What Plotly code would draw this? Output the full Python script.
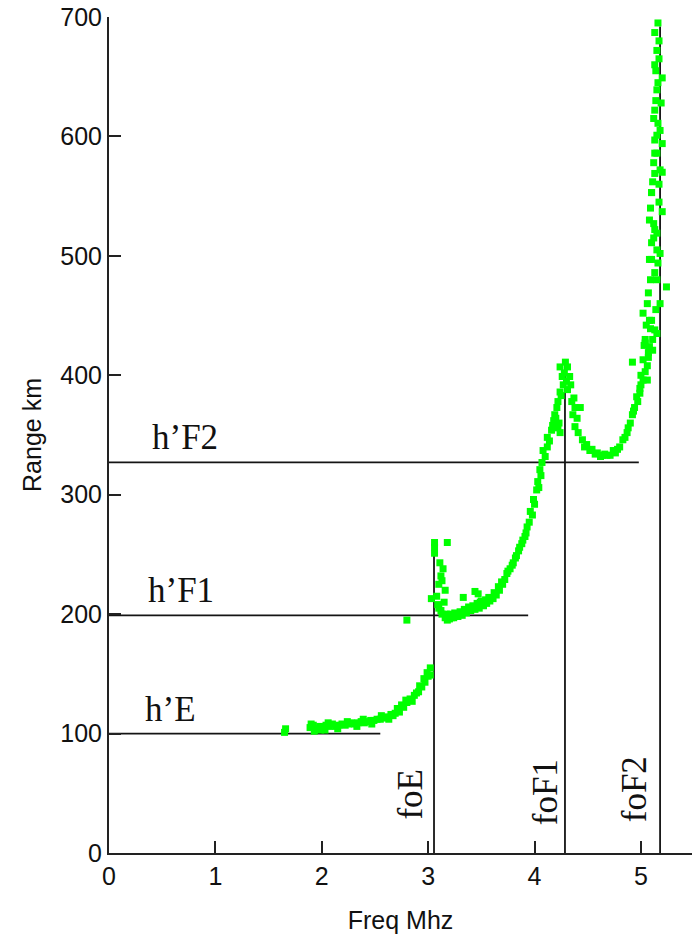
import plotly.graph_objects as go

# ---- echo trace (frequency MHz, virtual range km) ----
e_freq = [1.65, 1.66, 1.89, 1.92, 1.95, 1.98, 2.01, 2.04, 2.07, 2.10, 2.13, 2.16, 2.19, 2.22,
          2.25, 2.28, 2.31, 2.34, 2.37, 2.40, 2.43, 2.46, 2.49, 2.52, 2.55, 2.58, 2.61, 2.65,
          2.69, 2.73, 2.77, 2.80, 2.83, 2.87, 2.91, 2.94, 2.97, 3.00, 3.02, 1.93, 1.99, 2.80,
          1.90, 2.03, 2.15, 2.33, 2.47, 2.63, 2.67, 2.71, 2.75, 2.79, 2.85, 2.89, 2.92, 2.96,
          2.99, 3.02, 2.06, 2.24, 2.39, 2.56]
e_range = [101, 104, 105, 107, 104, 106, 105, 107, 106, 108, 106, 107, 108, 107,
           108, 109, 108, 109, 110, 109, 110, 111, 111, 112, 112, 113, 114, 116,
           117, 118, 122, 126, 129, 132, 135, 139, 143, 148, 155, 102, 103, 195,
           108, 103, 104, 106, 108, 112, 115, 121, 124, 128, 127, 134, 140, 146,
           151, 149, 109, 110, 112, 115]

f1_freq = [3.06, 3.06, 3.06, 3.18, 3.03, 3.08, 3.10, 3.12, 3.14, 3.11, 3.13, 3.16, 3.15, 3.10,
           3.13, 3.16, 3.18, 3.20, 3.22, 3.24, 3.26, 3.28, 3.32, 3.36, 3.40, 3.44, 3.48, 3.52,
           3.33, 3.44, 3.47, 3.49, 3.55, 3.58, 3.61, 3.64, 3.67, 3.70, 3.72, 3.74, 3.77, 3.80,
           3.83, 3.86, 3.89, 3.92, 3.93, 3.96, 3.99, 4.02, 4.03, 4.05, 4.07, 4.08, 4.12, 4.12,
           4.16, 4.22, 4.24, 4.19, 4.22, 4.24, 4.21, 4.26, 4.24, 4.29, 4.31, 4.33, 4.31, 4.35,
           4.38, 4.43, 4.36, 4.38, 4.41, 4.45, 4.49, 4.54, 4.59, 4.64, 4.68, 4.71, 4.76, 4.80,
           4.83, 4.87, 4.90, 4.92, 4.94, 4.96, 4.99, 5.02, 5.04, 4.92, 5.02, 5.07, 5.04, 5.11,
           5.15, 5.08, 4.18, 4.27,
           3.09, 3.12, 3.17, 3.21, 3.25, 3.30, 3.34, 3.38, 3.42, 3.46, 3.50, 3.54, 3.57, 3.62,
           3.66, 3.69, 3.75, 3.79, 3.82, 3.85, 3.88, 3.91, 3.95, 3.98, 4.00, 4.04, 4.06, 4.10,
           4.14, 4.17, 4.20, 4.23, 4.25, 4.28, 4.30, 4.34, 4.37, 4.40, 4.47, 4.52, 4.57, 4.62,
           4.66, 4.74, 4.78, 4.85, 4.88, 4.93, 4.97, 5.00, 5.06, 5.09]
f1_range = [251, 256, 260, 260, 213, 215, 225, 232, 238, 243, 228, 220, 210, 205,
            200, 197, 195, 196, 197, 197, 198, 198, 199, 201, 203, 204, 205, 207,
            214, 219, 217, 210, 209, 211, 213, 216, 220, 225, 229, 234, 238, 243,
            249, 256, 262, 268, 273, 286, 296, 304, 311, 321, 327, 337, 340, 348,
            354, 356, 352, 367, 378, 386, 373, 399, 407, 411, 407, 399, 388, 378,
            373, 373, 367, 357, 352, 346, 342, 338, 335, 333, 333, 333, 335, 340,
            346, 352, 360, 367, 373, 382, 389, 396, 403, 411, 413, 419, 427, 430,
            435, 424, 362, 392,
            208, 203, 200, 200, 201, 202, 204, 206, 207, 209, 211, 212, 214, 218,
            223, 227, 236, 241, 247, 253, 259, 265, 277, 283, 292, 306, 316, 332,
            345, 358, 364, 360, 383, 402, 395, 392, 381, 364, 340, 337, 334, 332,
            334, 337, 338, 348, 356, 370, 378, 392, 408, 439]

f2_freq = [5.16, 5.13, 5.15, 5.13, 5.20, 5.15, 5.13, 5.16, 5.13, 5.20, 5.13, 5.20, 5.13, 5.10,
           5.20, 5.08, 5.15, 5.10, 5.18, 5.10, 5.13, 5.24, 5.07, 5.02, 5.10, 5.15, 5.18, 5.10,
           5.13, 5.15, 5.08, 5.16, 5.08, 5.13, 5.04, 5.11, 5.06, 4.99, 5.17, 5.14, 5.18, 5.12,
           5.17, 5.15, 5.18, 5.14,
           5.17, 5.14, 5.16, 5.19, 5.12, 5.15, 5.11, 5.17, 5.09, 5.12, 5.06, 5.05, 5.09, 5.12,
           5.03, 5.00, 5.07]
f2_range = [695, 687, 672, 660, 649, 639, 622, 611, 597, 594, 586, 570, 569, 553,
            537, 530, 519, 511, 502, 497, 486, 474, 469, 452, 446, 586, 572, 553,
            522, 505, 497, 494, 446, 438, 430, 421, 396, 385, 680, 630, 605, 578,
            545, 480, 460, 455,
            665, 655, 645, 628, 615, 601, 562, 560, 540, 527, 460, 442, 480, 515,
            425, 400, 415]

# ---- scaled parameters (reference lines) ----
h_names = ["h\u2019E", "h\u2019F1", "h\u2019F2"]
h_heights = [100, 199, 327]
h_ends = [2.55, 3.94, 4.98]
h_label_x = [0.58, 0.68, 0.71]

fo_names = ["foE", "foF1", "foF2"]
fo_freqs = [3.055, 4.286, 5.18]
fo_tops = [250, 412, 692]
fo_label_x = [2.83, 4.10, 4.94]
fo_label_y = [49, 51, 53]

freq_ticks = [0, 1, 2, 3, 4, 5]
range_ticks = [0, 100, 200, 300, 400, 500, 600, 700]

fig = go.Figure()

line_color = "#141414"
for hy, hx in zip(h_heights, h_ends):
    fig.add_trace(go.Scatter(x=[0, hx], y=[hy, hy], mode="lines",
                             line=dict(color=line_color, width=1.8),
                             hoverinfo="skip", showlegend=False))
for fx, ft in zip(fo_freqs, fo_tops):
    fig.add_trace(go.Scatter(x=[fx, fx], y=[0, ft], mode="lines",
                             line=dict(color=line_color, width=1.8),
                             hoverinfo="skip", showlegend=False))

fig.add_trace(go.Scatter(x=e_freq + f1_freq + f2_freq,
                         y=e_range + f1_range + f2_range,
                         mode="markers",
                         marker=dict(symbol="square", size=7, color="#00ff00",
                                     line=dict(width=0)),
                         showlegend=False, name="echoes"))

serif = "Liberation Serif, Times New Roman, serif"
for name, hy, lx in zip(h_names, h_heights, h_label_x):
    fig.add_annotation(x=lx, y=hy, text=name, showarrow=False,
                       xanchor="center", yanchor="bottom", yshift=3,
                       font=dict(family=serif, size=35, color="#111"))
for name, fx, fy in zip(fo_names, fo_label_x, fo_label_y):
    fig.add_annotation(x=fx, y=fy, text=name, showarrow=False, textangle=-90,
                       xanchor="center", yanchor="middle",
                       font=dict(family=serif, size=35, color="#111"))

sans = "Liberation Sans, Arial, sans-serif"
axis_common = dict(showgrid=False, zeroline=False, showline=True, linecolor="#222",
                   linewidth=2, ticks="inside", ticklen=12, tickwidth=1.5,
                   tickcolor="#222", automargin=False,
                   tickfont=dict(family=sans, size=25, color="#111"))

fig.update_xaxes(range=[0, 5.48], tickvals=freq_ticks, ticktext=[str(t) for t in freq_ticks],
                 title=dict(text="Freq Mhz", font=dict(family=sans, size=25, color="#111"),
                            standoff=22),
                 **axis_common)
fig.update_yaxes(range=[0, 700], tickvals=range_ticks, ticktext=[str(t) for t in range_ticks],
                 title=dict(text="Range km", font=dict(family=sans, size=25, color="#111"),
                            standoff=12),
                 **axis_common)

fig.update_layout(width=696, height=940, plot_bgcolor="white", paper_bgcolor="white",
                  margin=dict(l=109, r=4, t=17, b=87), showlegend=False)

fig.write_html("out.html", config={"displayModeBar": False},
               post_script="document.body.style.margin='0px';document.body.style.overflow='hidden';")
